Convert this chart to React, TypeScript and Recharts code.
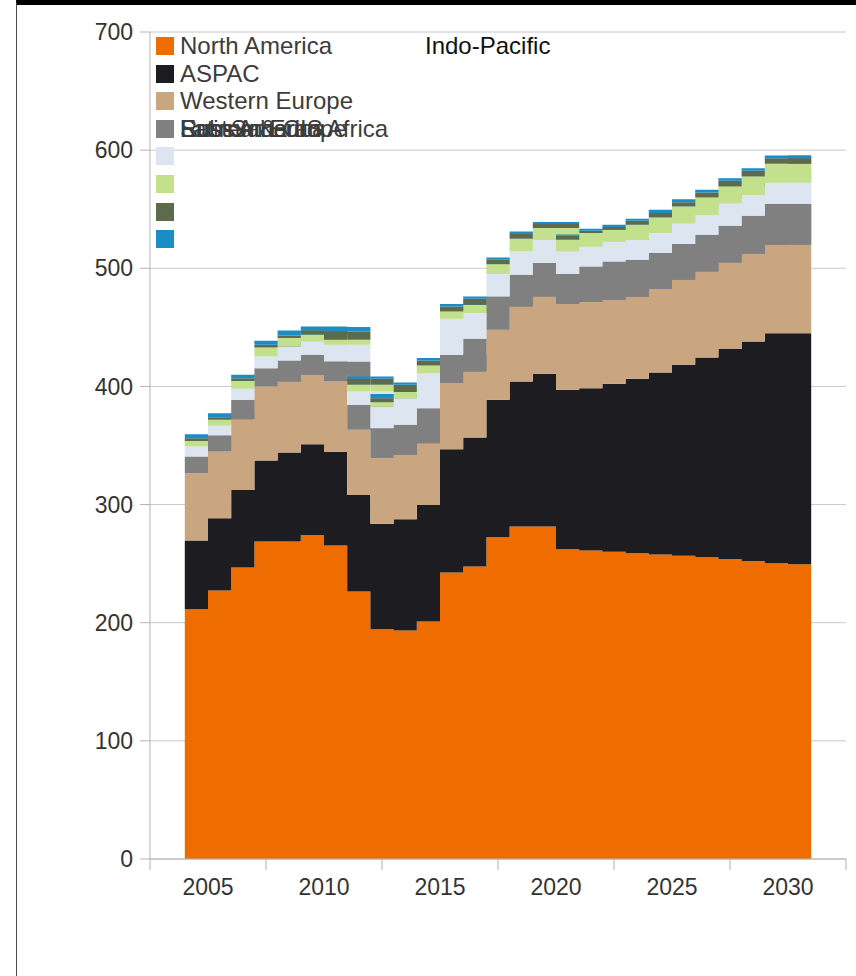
import React from 'react';
import { AreaChart, Area, XAxis, YAxis, CartesianGrid } from 'recharts';

const FONT = '"Liberation Sans", Arial, Helvetica, sans-serif';

const years = [
  2004, 2005, 2006, 2007, 2008, 2009, 2010, 2011, 2012, 2013, 2014, 2015, 2016, 2017,
  2018, 2019, 2020, 2021, 2022, 2023, 2024, 2025, 2026, 2027, 2028, 2029, 2030,
];

const northAmerica = [
  211.4, 227.2, 246.7, 268.7, 268.7, 274.3, 265.3, 226.4, 194.5, 193.5, 201.0, 242.5, 247.5, 272.4,
  281.4, 281.4, 262.2, 261.1, 260.0, 258.8, 257.7, 256.6, 255.5, 254.0, 252.3, 250.3, 249.5,
];
const aspac = [
  58.1, 61.3, 65.7, 68.6, 75.3, 76.8, 79.5, 81.8, 89.2, 94.1, 98.7, 104.4, 109.2, 116.3,
  122.8, 129.3, 134.9, 137.4, 142.2, 147.6, 154.1, 161.7, 169.0, 177.6, 185.7, 194.8, 195.6,
];
const westernEurope = [
  57.1, 56.4, 59.8, 62.6, 60.2, 58.7, 59.4, 55.1, 55.6, 54.5, 52.3, 55.9, 55.9, 59.2,
  63.5, 65.4, 72.6, 72.9, 71.1, 69.6, 70.6, 72.0, 72.8, 73.3, 74.3, 74.8, 74.8,
];
const easternEurope = [
  14.0, 13.5, 16.5, 15.5, 17.7, 17.0, 16.9, 21.1, 25.4, 25.4, 29.6, 24.0, 27.7, 28.2,
  26.8, 28.3, 25.4, 30.1, 32.5, 31.2, 30.5, 30.2, 31.1, 31.1, 32.2, 34.7, 34.7,
];
const latinAmerica = [
  8.5, 8.3, 9.3, 9.9, 11.9, 11.5, 14.1, 11.3, 18.2, 22.6, 29.4, 30.4, 21.8, 19.0,
  19.7, 19.7, 19.1, 17.0, 16.9, 16.9, 16.9, 17.7, 16.9, 19.1, 17.7, 18.1, 18.1,
];
const russiaCis = [
  4.8, 5.0, 6.7, 7.7, 7.1, 5.7, 4.3, 5.7, 3.8, 5.1, 6.7, 6.3, 7.0, 8.4,
  10.8, 9.9, 9.9, 11.3, 9.9, 12.7, 13.2, 14.1, 14.7, 14.2, 15.5, 15.8, 15.8,
];
const subSaharanAfrica = [
  2.3, 2.3, 2.3, 2.2, 2.2, 3.5, 7.0, 5.0, 3.4, 6.2, 4.3, 4.2, 5.1, 3.7,
  4.0, 3.4, 3.5, 1.9, 2.3, 3.4, 3.7, 3.6, 4.2, 4.8, 4.9, 4.7, 4.7,
];
const indoPacific = [
  3.4, 3.4, 2.8, 3.4, 4.3, 3.2, 3.8, 2.0, 3.4, 1.9, 2.0, 2.0, 1.9, 2.0,
  2.2, 1.7, 1.0, 1.7, 1.9, 1.7, 2.8, 2.6, 2.3, 2.2, 2.1, 2.3, 2.3,
];

const seriesNames = [
  'North America',
  'ASPAC',
  'Western Europe',
  'Eastern Europe',
  'Latin America',
  'Russia & CIS',
  'Sub-Saharan Africa',
  'Indo-Pacific',
];
const seriesColors = [
  '#ef6c00',
  '#1c1c21',
  '#c9a580',
  '#808080',
  '#dde6f0',
  '#c3e08c',
  '#5b6b4b',
  '#1a8cc6',
];
const seriesValues = [
  northAmerica,
  aspac,
  westernEurope,
  easternEurope,
  latinAmerica,
  russiaCis,
  subSaharanAfrica,
  indoPacific,
];

const yTicks = [0, 100, 200, 300, 400, 500, 600, 700];
const xLabelYears = [2005, 2010, 2015, 2020, 2025, 2030];
const xBoundaryTicks = [2002.5, 2007.5, 2012.5, 2017.5, 2022.5, 2027.5, 2032.5];
const xTicks = [...xBoundaryTicks, ...xLabelYears].sort((a, b) => a - b);

// rows for the chart: own values (s*) and the previous year's values (p*),
// the latter drawn behind, as in the original rendering
const rows: any[] = years.map((year, i) => {
  const row: any = { year };
  seriesValues.forEach((vals, s) => {
    row[`s${s}`] = vals[i];
    row[`p${s}`] = i > 0 ? vals[i - 1] : 0;
  });
  return row;
});
// closing point so the last year's step has its full width
{
  const last = years.length - 1;
  const row: any = { year: years[last] + 1 };
  seriesValues.forEach((vals, s) => {
    row[`s${s}`] = vals[last];
    row[`p${s}`] = vals[last];
  });
  rows.push(row);
}

const AXIS_COLOR = '#b3b3b3';
const TEXT_COLOR = '#333333';

const XTick = (props: any) => {
  const { x, y, payload } = props;
  const v = payload.value;
  if (xLabelYears.includes(v)) {
    return (
      <text
        x={x}
        y={y + 20}
        dy="0.71em"
        textAnchor="middle"
        fill={TEXT_COLOR}
        fontSize={23}
        fontFamily={FONT}
      >
        {v}
      </text>
    );
  }
  return <line x1={x} y1={y} x2={x} y2={y + 11} stroke={AXIS_COLOR} strokeWidth={1} />;
};

// legend layout: row of each swatch, and where each label is written
const legendTextRow = [0, 1, 2, 3, 3, 3, 3, 0];
const legendTextLeft = [180, 180, 180, 180, 180, 180, 180, 425];

const LEGEND_TOP = 46;
const LEGEND_STEP = 27.6;

const Legendish = () => (
  <div style={{ position: 'absolute', left: 0, top: 0, width: 856, height: 300, pointerEvents: 'none' }}>
    {seriesNames.map((name, i) => (
      <div
        key={`sw${i}`}
        style={{
          position: 'absolute',
          left: 156,
          top: LEGEND_TOP + LEGEND_STEP * i - 9,
          width: 18,
          height: 18,
          background: seriesColors[i],
        }}
      />
    ))}
    {seriesNames.map((name, i) => (
      <div
        key={`tx${i}`}
        style={{
          position: 'absolute',
          left: legendTextLeft[i],
          top: LEGEND_TOP + LEGEND_STEP * legendTextRow[i] - 14,
          height: 28,
          lineHeight: '28px',
          fontFamily: FONT,
          fontSize: 24,
          color: i === 7 ? '#111111' : '#3c3c3c',
          whiteSpace: 'nowrap',
        }}
      >
        {name}
      </div>
    ))}
  </div>
);

export default function App() {
  return (
    <div style={{ position: 'absolute', left: 0, top: 0, width: 856, height: 976, background: '#ffffff', overflow: 'hidden' }}>
      <div
        style={{
          position: 'absolute',
          left: 16,
          top: 0,
          width: 840,
          height: 976,
          borderTop: '5px solid #000000',
          borderLeft: '1px solid #4a4a4a',
          boxSizing: 'border-box',
        }}
      />
      <div style={{ position: 'absolute', left: 0, top: 0 }}>
        <AreaChart
          width={856}
          height={976}
          data={rows}
          margin={{ top: 32, right: 10, bottom: 0, left: 0 }}
        >
          <CartesianGrid vertical={false} stroke="#c8c8c8" strokeWidth={1} />
          <XAxis
            type="number"
            dataKey="year"
            domain={[2002.5, 2032.5]}
            ticks={xTicks}
            interval={0}
            height={117}
            tickLine={false}
            tickSize={0}
            tickMargin={0}
            axisLine={{ stroke: AXIS_COLOR }}
            tick={<XTick />}
            allowDataOverflow
          />
          <YAxis
            type="number"
            domain={[0, 700]}
            ticks={yTicks}
            interval={0}
            width={150}
            tickSize={10}
            tickMargin={7}
            axisLine={{ stroke: AXIS_COLOR }}
            tickLine={{ stroke: AXIS_COLOR }}
            tick={{ fill: TEXT_COLOR, fontSize: 23, fontFamily: FONT }}
            allowDataOverflow
          />
          {seriesValues.map((_, s) => (
            <Area
              key={`p${s}`}
              type="stepAfter"
              dataKey={`p${s}`}
              stackId="prev"
              fill={seriesColors[s]}
              fillOpacity={s < 3 ? 0 : 1}
              stroke="none"
              dot={false}
              activeDot={false}
              isAnimationActive={false}
            />
          ))}
          {seriesValues.map((_, s) => (
            <Area
              key={`s${s}`}
              type="stepAfter"
              dataKey={`s${s}`}
              name={seriesNames[s]}
              stackId="main"
              fill={seriesColors[s]}
              fillOpacity={1}
              stroke="none"
              dot={false}
              activeDot={false}
              isAnimationActive={false}
            />
          ))}
        </AreaChart>
      </div>
      <Legendish />
    </div>
  );
}
